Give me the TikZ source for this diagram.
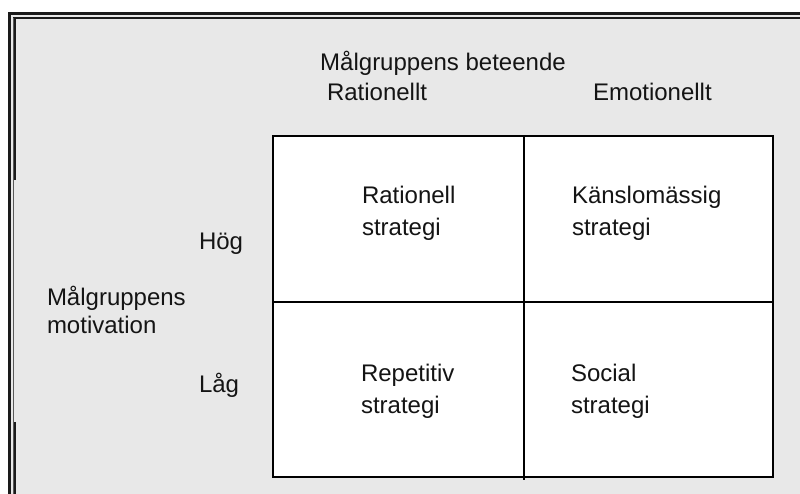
\documentclass[tikz,border=0pt]{standalone}
\usepackage{fontspec}
\setmainfont{Liberation Sans}
\definecolor{panel}{HTML}{E8E8E8}
\definecolor{ink}{HTML}{141414}
\definecolor{rim}{HTML}{1A1A1A}
\begin{document}
\begin{tikzpicture}[x=1pt,y=-1pt,
  lbl/.style={inner sep=0pt,outer sep=0pt,text=ink,font=\fontsize{24}{28}\selectfont},
  gridline/.style={draw=black,line width=2pt}]
\useasboundingbox (0,0) rectangle (800,493);
% page background and grey panel
\fill[white] (0,0) rectangle (800,493);
\fill[panel] (9.5,13) rectangle (805,500);
% double frame
\draw[rim,line width=3pt] (9.5,13) -- (9.5,500);
\draw[rim,line width=3pt] (8,13) -- (805,13);
\draw[rim,line width=2.5pt] (13,18) -- (805,18);
\draw[gray!70!black,line width=1pt] (13.5,18) -- (13.5,500);
\draw[rim,line width=2.6pt] (14.8,17) -- (14.8,180);
\draw[rim,line width=2.6pt] (14.8,422) -- (14.8,500);
% matrix
\fill[white] (273,136) rectangle (773,477);
\coordinate (tl) at (273,136);
\coordinate (br) at (773,477);
\coordinate (midtop) at (524,136);
\coordinate (midbot) at (524,480);
\coordinate (midleft) at (273,302);
\coordinate (midright) at (773,302);
\draw[gridline] (tl) rectangle (br);
\draw[gridline] (midtop) -- (midbot);
\draw[gridline] (midleft) -- (midright);
% axis labels
\node[lbl,anchor=base] (beh) at (443,70) {Målgruppens beteende};
\node[lbl,anchor=base west] (rat) at (327,100) {Rationellt};
\node[lbl,anchor=base west] (emo) at (593,100) {Emotionellt};
\node[lbl,anchor=base west] (mot1) at (47,305) {Målgruppens};
\node[lbl,anchor=base west] (mot2) at (47,333) {motivation};
\node[lbl,anchor=base west] (hog) at (199,249) {Hög};
\node[lbl,anchor=base west] (lag) at (199,392) {Låg};
% cell texts
\node[lbl,anchor=base west] (c1a) at (362,203) {Rationell};
\node[lbl,anchor=base west] (c1b) at (362,235) {strategi};
\node[lbl,anchor=base west] (c2a) at (572,203) {Känslomässig};
\node[lbl,anchor=base west] (c2b) at (572,235) {strategi};
\node[lbl,anchor=base west] (c3a) at (361,381) {Repetitiv};
\node[lbl,anchor=base west] (c3b) at (361,413) {strategi};
\node[lbl,anchor=base west] (c4a) at (571,381) {Social};
\node[lbl,anchor=base west] (c4b) at (571,413) {strategi};
\end{tikzpicture}
\end{document}
